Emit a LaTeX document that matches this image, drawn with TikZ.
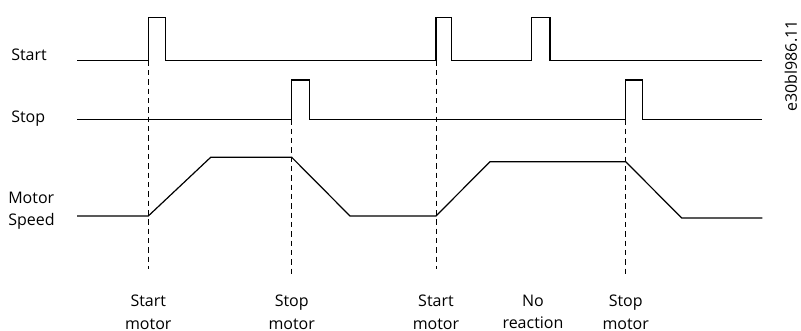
\documentclass[tikz,border=0pt]{standalone}
\usepackage{fontspec}
\setmainfont{Open Sans}
\usetikzlibrary{positioning}
\begin{document}
\begin{tikzpicture}[x=0.75pt,y=-0.75pt,font=\fontsize{12}{16.7}\selectfont,
  sig/.style={line width=0.9pt,line join=miter},
  guide/.style={line width=0.6pt,dash pattern=on 4pt off 3pt},
  signame/.style={anchor=base west,inner sep=0pt,align=left},
  event/.style={anchor=north,inner sep=0pt,align=center},
  tag/.style={rotate=90,inner sep=0pt}]
  \useasboundingbox (0,0) rectangle (801,331);
  % signal names
  \node[signame] (lstart) at (11,61) {Start};
  \node[signame] (lstop) at (11,122.5) {Stop};
  \node[signame,anchor=north west] (lspeed) at (8,192) {Motor\\Speed};
  % start input
  \draw[sig] (77,60.7) -| (148.3,17.3) -| (165.7,60.7) -| (436,17.3) -| (451.7,60.7)
    -| (531.7,17.3) -| (550,60.7) -- (762.3,60.7);
  % stop input
  \draw[sig] (77,119.3) -| (291.7,80) -| (309.3,119.3) -| (625.7,80) -| (642.3,119.3)
    -- (762.3,119.3);
  % motor speed
  \draw[sig] (77,216) -- (148.3,216) -- (210.7,157.3) -- (291.7,157.3) -- (350,216)
    -- (436,216) -- (490,161.7) -- (625.7,161.7) -- (681.7,218) -- (762.3,218);
  % events
  \foreach \n/\x/\y/\e/\t in {t1/148.3/60.7/269.3/{Start\\motor},t2/291.7/119.3/275/{Stop\\motor},
    t3/436/60.7/269.3/{Start\\motor},t4/625.7/119.3/275/{Stop\\motor}}{
    \coordinate (\n) at (\x,\y);
    \draw[guide] (\n) -- (\x,\e);
    \node[event] (m\n) at (\x,295) {\t};
  }
  \node[event] (noreact) at (533,295) {No\\reaction};
  \node[tag] (docid) at (791,66) {e30bl986.11};
\end{tikzpicture}
\end{document}
